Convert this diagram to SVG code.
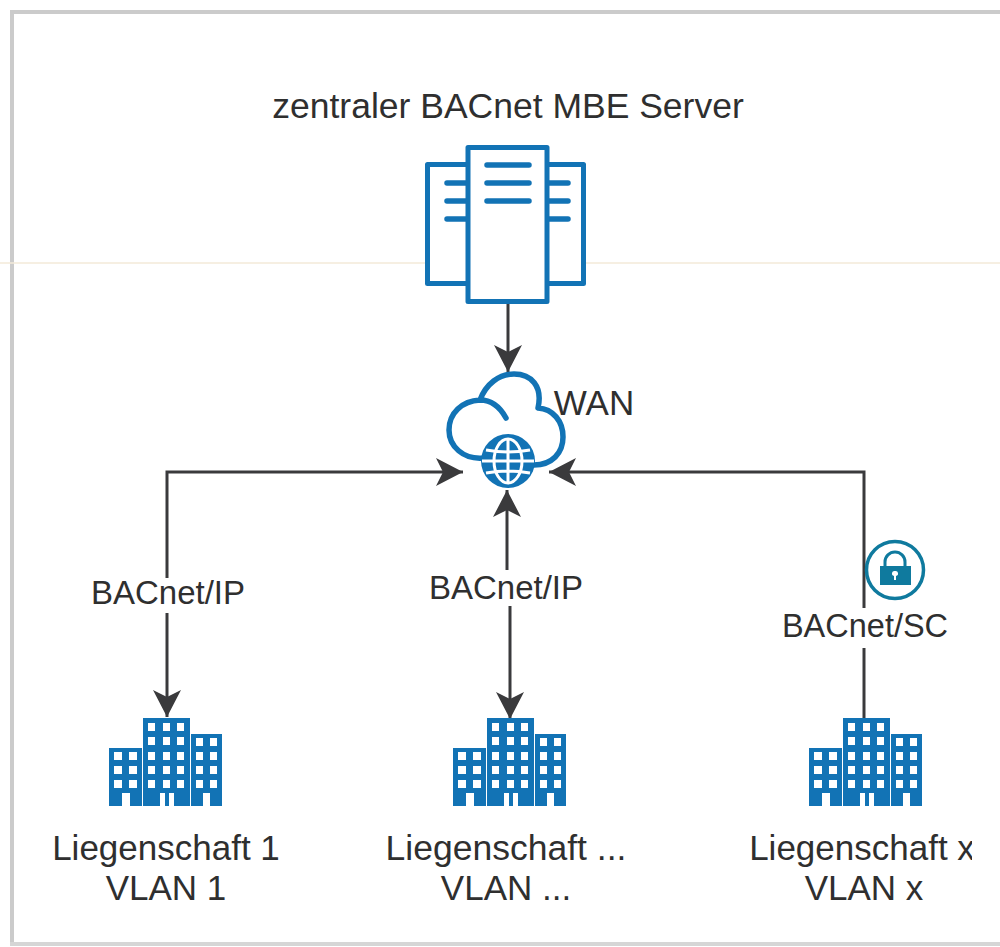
<svg xmlns="http://www.w3.org/2000/svg" width="1000" height="947" viewBox="0 0 1000 947">
<style>
text{font-family:"Liberation Sans",Arial,sans-serif;fill:#2f2f2f;text-anchor:middle}
.t{font-size:35px}.l{font-size:33px}
.c{fill:none;stroke:#3a3a3c;stroke-width:3}
.b{fill:none;stroke:#1273b5;stroke-width:5.500;stroke-linejoin:round;stroke-linecap:round}
.bf{fill:#fff;stroke:#1273b5;stroke-width:5;stroke-linejoin:round}
.r{stroke:#1273b5;stroke-width:5.500;stroke-linecap:round;fill:none}
.ah{fill:#3a3a3c}
</style>
<defs>
<marker id="a" markerUnits="userSpaceOnUse" markerWidth="30" markerHeight="32" refX="27" refY="16" orient="auto-start-reverse"><path class="ah" d="M0 2 L27 16 L0 30 L7 16Z"/></marker>
<clipPath id="cut"><rect x="700" y="820" width="272" height="100"/></clipPath>
<g id="bld">
<path fill="#1273b5" fill-rule="evenodd" d="M109 748h33v58h-33zM143 718h47v88h-47zM191 734h31v72h-31z"/>
<g fill="#fff">
<path d="M114 752h8v8h-8zM129 752h8v8h-8zM114 766h8v8h-8zM129 766h8v8h-8zM114 780h8v8h-8zM129 780h8v8h-8zM122 793h8v13h-8z"/>
<path d="M148 723h7v8h-7zM163 723h7v8h-7zM177 723h7v8h-7zM148 737h7v8h-7zM163 737h7v8h-7zM177 737h7v8h-7zM148 752h7v8h-7zM163 752h7v8h-7zM177 752h7v8h-7zM148 766h7v8h-7zM163 766h7v8h-7zM177 766h7v8h-7zM148 780h7v8h-7zM163 780h7v8h-7zM177 780h7v8h-7zM160 793h5v13h-5zM169 793h5v13h-5z"/>
<path d="M196 738h7v8h-7zM210 738h7v8h-7zM196 752h7v8h-7zM210 752h7v8h-7zM196 766h7v8h-7zM210 766h7v8h-7zM196 780h7v8h-7zM210 780h7v8h-7zM203 793h7v13h-7z"/>
</g>
</g>
</defs>
<rect width="1000" height="947" fill="#fff"/>
<g id="frame">
<path d="M12 943V12H1000" fill="none" stroke="#cbcbcb" stroke-width="4"/>
<path d="M10 944H1000" fill="none" stroke="#d6d6d6" stroke-width="4"/>
<path d="M0 263H1000" fill="none" stroke="#f3ead9" stroke-width="1.500"/>
</g>
<g id="connectors">
<path class="c" d="M508 303V372" marker-end="url(#a)"/>
<path class="c" d="M463 472H167V578" marker-start="url(#a)"/>
<path class="c" d="M167 613V717" marker-end="url(#a)"/>
<path class="c" d="M507 490V570" marker-start="url(#a)"/>
<path class="c" d="M510 606V719" marker-end="url(#a)"/>
<path class="c" d="M549 472H864V608" marker-start="url(#a)"/>
<path class="c" d="M864 648V718"/>
</g>
<g id="server">
<rect class="bf" x="427.500" y="164.500" width="156" height="119"/>
<path class="r" d="M447 183H470M447 201H470M447 219H470M547 183H568M547 201H568M547 219H568"/>
<rect class="bf" x="468" y="147.500" width="79" height="154"/>
<path class="r" d="M487 165H529M487 183H529M487 201H529"/>
<text class="t" x="508" y="118" style="font-size:35.500px">zentraler BACnet MBE Server</text>
</g>
<g id="wan">
<path class="b" d="M484 458C463 460 449 446 449 430C449 413 462 401 480 400C486 384 499 374 514 374C531 374 543 386 538 408C553 409 563 421 563 437C563 453 552 465 534 465M480 400C491 400 500 407 506 418"/>
<circle cx="508" cy="461" r="27" fill="#1273b5"/>
<g fill="none" stroke="#fff" stroke-width="3"><path d="M486 450Q508 454 530 450M482 461H534M486 473Q508 469 530 473M508 440V482"/><ellipse cx="508" cy="461" rx="14" ry="22"/></g>
<text class="t" x="594" y="415">WAN</text>
</g>
<g id="lock">
<circle cx="895" cy="570" r="28.500" fill="#fff" stroke="#0f7a9e" stroke-width="3.500"/>
<path d="M885 568V562A10 10 0 0 1 905 562V568" fill="none" stroke="#0f7a9e" stroke-width="3"/>
<path fill="#0f7a9e" fill-rule="evenodd" d="M880 566H911V585H880zM895 571a2.500 2.500 0 0 0-1 5v4h2v-4a2.500 2.500 0 0 0-1-5z"/>
</g>
<g id="label1"><text class="l" x="168" y="604">BACnet/IP</text></g>
<g id="label2"><text class="l" x="506" y="599">BACnet/IP</text></g>
<g id="label3"><text class="l" x="865" y="637" style="font-size:32.500px">BACnet/SC</text></g>
<g id="site1">
<use href="#bld"/>
<text class="t" x="166" y="860">Liegenschaft 1</text>
<text class="t" x="166" y="900">VLAN 1</text>
</g>
<g id="site2">
<use href="#bld" x="344"/>
<text class="t" x="506" y="860" style="font-size:35.500px">Liegenschaft ...</text>
<text class="t" x="506" y="900">VLAN ...</text>
</g>
<g id="site3">
<use href="#bld" x="700"/>
<text class="t" x="862" y="860" clip-path="url(#cut)">Liegenschaft x</text>
<text class="t" x="864" y="900">VLAN x</text>
</g>
</svg>
